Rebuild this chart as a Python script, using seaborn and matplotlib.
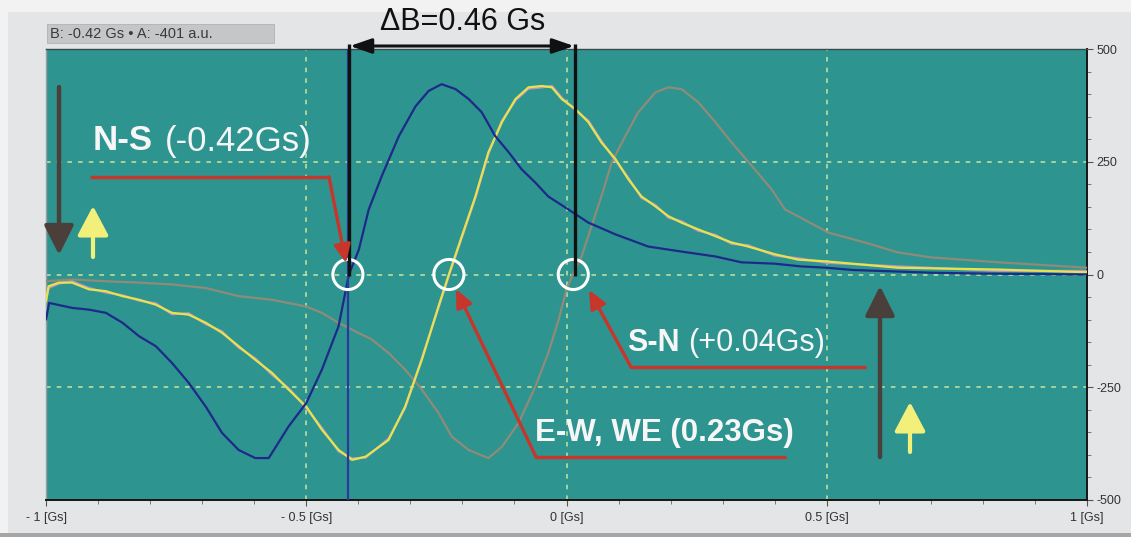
import matplotlib
matplotlib.use("Agg")
import matplotlib.pyplot as plt
import seaborn as sns
import numpy as np
import pandas as pd
from matplotlib.patches import Rectangle, FancyArrowPatch
from matplotlib.lines import Line2D
from matplotlib.ticker import MultipleLocator, FixedLocator, FixedFormatter

# ---------------- data ----------------
blue_B = [-1.0, -0.994, -0.95, -0.917, -0.885, -0.853, -0.821, -0.789, -0.758, -0.726, -0.693,
          -0.662, -0.63, -0.598, -0.572, -0.534, -0.5, -0.47, -0.438, -0.418, -0.399, -0.38,
          -0.355, -0.322, -0.29, -0.265, -0.24, -0.213, -0.188, -0.163, -0.137, -0.111,
          -0.086, -0.06, -0.035, 0.004, 0.042, 0.094, 0.157, 0.22, 0.286, 0.336, 0.4, 0.45,
          0.5, 0.55, 0.6, 0.7, 0.8, 0.9, 1.0]
blue_A = [-100, -63, -74, -78, -85, -107, -137, -159, -196, -240, -293,
          -351, -389, -407, -407, -337, -285, -211, -115, 0, 55, 144,
          218, 307, 373, 407, 422, 411, 389, 360, 307, 271,
          233, 204, 173, 144, 115, 89, 62, 51, 40, 27, 24, 18,
          15, 10, 8, 4, 2, 1, 0]

yel_B = [-1.0, -0.995, -0.975, -0.95, -0.917, -0.885, -0.853, -0.821, -0.789, -0.758, -0.726,
         -0.693, -0.662, -0.63, -0.598, -0.566, -0.534, -0.5, -0.47, -0.438, -0.412, -0.386,
         -0.342, -0.31, -0.278, -0.246, -0.226, -0.201, -0.175, -0.15, -0.124, -0.098, -0.073,
         -0.047, -0.028, -0.009, 0.017, 0.042, 0.067, 0.094, 0.119, 0.144, 0.171, 0.196,
         0.221, 0.253, 0.286, 0.317, 0.349, 0.4, 0.445, 0.5, 0.637, 0.83, 1.0]
yel_A = [-60, -26, -18, -18, -33, -37, -48, -56, -67, -85, -89,
         -107, -129, -159, -189, -218, -255, -293, -344, -389, -411, -404,
         -367, -293, -189, -71, 0, 85, 173, 271, 338, 389, 415,
         418, 415, 389, 367, 338, 293, 256, 211, 173, 151, 129,
         115, 100, 85, 71, 62, 45, 33, 29, 15, 11, 5]

lav_B = yel_B
lav_A = [-56, -30, -20, -15, -30, -40, -46, -58, -64, -88, -86,
         -110, -126, -162, -186, -222, -252, -296, -340, -392, -408, -406,
         -364, -296, -186, -74, -3, 82, 170, 268, 341, 386, 412,
         415, 418, 392, 364, 341, 296, 253, 214, 170, 154, 126,
         118, 97, 88, 68, 65, 42, 36, 26, 18, 8, 8]

gray_B = [-1.0, -0.95, -0.885, -0.821, -0.758, -0.693, -0.63, -0.566, -0.5, -0.47, -0.438,
          -0.406, -0.374, -0.342, -0.31, -0.278, -0.246, -0.22, -0.188, -0.15, -0.124,
          -0.092, -0.06, -0.035, -0.015, 0.0, 0.012, 0.029, 0.067, 0.087, 0.113, 0.138,
          0.171, 0.196, 0.221, 0.253, 0.286, 0.317, 0.35, 0.394, 0.42, 0.445, 0.503,
          0.573, 0.637, 0.70, 0.83, 1.0]
gray_A = [-15, -11, -15, -18, -22, -30, -48, -56, -71, -85, -107,
          -126, -144, -174, -211, -255, -307, -360, -389, -407, -382,
          -329, -249, -174, -100, -33, 0, 40, 173, 249, 307, 360,
          404, 415, 411, 382, 338, 293, 249, 189, 144, 129, 93,
          71, 49, 38, 27, 15]

circle_B = [-0.42, -0.226, 0.013]
circle_A = [0, 0, 0]

x_ticks = [-1, -0.5, 0, 0.5, 1]
x_tick_labels = ["- 1 [Gs]", "- 0.5 [Gs]", "0 [Gs]", "0.5 [Gs]", "1 [Gs]"]
y_ticks = [-500, -250, 0, 250, 500]
y_tick_labels = ["-500", "-250", "0", "250", "500"]

readout = "B: -0.42 Gs \u2022 A: -401 a.u."
delta_label = "\u0394B=0.46 Gs"

# ---------------- styling ----------------
W, H = 1131, 537
sns.set_style("white")
plt.rcParams["font.family"] = ["Liberation Sans", "DejaVu Sans"]

fig = plt.figure(figsize=(W / 100, H / 100), dpi=100, facecolor="#f2f2f2")

def F(x, y):
    return (x / W, 1 - y / H)

# panel background
fig.patches.append(Rectangle(F(8, 533), (W - 8) / W, (533 - 12) / H, transform=fig.transFigure,
                             facecolor="#e3e5e7", edgecolor="none", zorder=-10))
fig.patches.append(Rectangle(F(0, 537), 1, 4 / H, transform=fig.transFigure,
                             facecolor="#a4a6a8", edgecolor="none", zorder=-9))

L, R, T, Bt = 46, 1087, 49, 500
ax = fig.add_axes([L / W, 1 - Bt / H, (R - L) / W, (Bt - T) / H])
ax.set_facecolor("#2e9490")

# grid
for gx in [-0.5, 0, 0.5]:
    ax.axvline(gx, color="#c9e6a2", lw=1.1, ls=(0, (3, 4)), zorder=1)
for gy in [-250, 0, 250]:
    ax.axhline(gy, color="#c9e6a2", lw=1.1, ls=(0, (3, 4)), zorder=1)

series = [
    (gray_B, gray_A, "#8e8b78"),
    (lav_B, lav_A, "#b494c8"),
    (yel_B, yel_A, "#e8e24e"),
    (blue_B, blue_A, "#1d2a88"),
]
for bx, ay, c in series:
    sns.lineplot(x=bx, y=ay, color=c, lw=1.6, ax=ax, sort=False, estimator=None, zorder=3)

ax.set_xlim(-1, 1)
ax.set_ylim(-500, 500)

# cursor line (navy)
ax.axvline(-0.42, color="#2a3a9c", lw=1.6, zorder=4)

# circles
ax.scatter(circle_B, circle_A, s=470, facecolors="none", edgecolors="white", linewidths=2.2, zorder=6)

# ticks
ax.yaxis.tick_right()
ax.yaxis.set_major_locator(FixedLocator(y_ticks))
ax.yaxis.set_major_formatter(FixedFormatter(y_tick_labels))
ax.yaxis.set_minor_locator(MultipleLocator(50))
ax.xaxis.set_major_locator(FixedLocator(x_ticks))
ax.xaxis.set_major_formatter(FixedFormatter(x_tick_labels))
ax.xaxis.set_minor_locator(MultipleLocator(0.1))
ax.tick_params(axis="both", which="major", direction="out", length=4, width=0.8,
               colors="#555555", labelcolor="#333333", labelsize=9, pad=3)
ax.tick_params(axis="both", which="minor", direction="out", length=3, width=0.7, colors="#777777")
ax.tick_params(axis="y", which="both", left=False, right=True)
ax.tick_params(axis="x", which="both", bottom=True, top=False, pad=5)

for s in ["right", "bottom"]:
    ax.spines[s].set_color("#151515")
    ax.spines[s].set_linewidth(1.4)
ax.spines["top"].set_color("#3a4a4a")
ax.spines["top"].set_linewidth(1.0)
ax.spines["left"].set_color("#9aa0a0")
ax.spines["left"].set_linewidth(1.0)

# ---------------- annotations (figure pixel coordinates) ----------------
def fline(pts, color, lw):
    xs = [p[0] / W for p in pts]
    ys = [1 - p[1] / H for p in pts]
    fig.add_artist(Line2D(xs, ys, transform=fig.transFigure, color=color, lw=lw,
                          solid_capstyle="butt", zorder=20))

def farrow(p0, p1, color, lw, hl, hw, ms=10):
    fig.add_artist(FancyArrowPatch(
        F(*p0), F(*p1), transform=fig.transFigure,
        arrowstyle=f"-|>,head_length={hl},head_width={hw}", mutation_scale=ms,
        color=color, lw=lw, shrinkA=0, shrinkB=0, zorder=21))

red = "#c8352a"
# N-S
fline([(90, 177), (330, 177)], red, 2.4)
farrow((329, 177), (346, 263), red, 2.4, 1.1, 0.5)
# E-W
fline([(535, 457), (786, 457)], red, 2.4)
farrow((536, 457), (456, 289), red, 2.4, 1.1, 0.5)
# S-N
fline([(630, 367), (866, 367)], red, 2.4)
farrow((631, 367), (589, 290), red, 2.4, 1.1, 0.5)

# big arrows
dark = "#4a3f3b"
yel = "#f2f07a"
farrow((59, 87), (59, 255), dark, 3.2, 1.8, 0.9)
farrow((93, 257), (93, 206), yel, 3.0, 1.8, 0.95)
farrow((880, 457), (880, 286), dark, 3.2, 1.8, 0.9)
farrow((910, 452), (910, 402), yel, 3.0, 1.8, 0.95)

# black delta-B construction
fline([(349, 44), (349, 276)], "#111111", 2.4)
fline([(575, 44), (575, 276)], "#111111", 2.4)
fig.add_artist(FancyArrowPatch(
    F(350, 46), F(574, 46), transform=fig.transFigure,
    arrowstyle="<|-|>,head_length=1.3,head_width=0.45", mutation_scale=10,
    color="#111111", lw=2.2, shrinkA=0, shrinkB=0, zorder=21))
fig.text(*F(463, 22), delta_label, ha="center", va="center", fontsize=22, color="#111111", zorder=22)

# labels
white = "#f6f6f6"
fig.text(*F(93, 141), "N-S", ha="left", va="center", fontsize=25, fontweight="bold", color=white, zorder=22)
fig.text(*F(165, 141), "(-0.42Gs)", ha="left", va="center", fontsize=25, color=white, zorder=22)
fig.text(*F(627, 343), "S-N", ha="left", va="center", fontsize=22, fontweight="bold", color=white, zorder=22)
fig.text(*F(688, 343), "(+0.04Gs)", ha="left", va="center", fontsize=22, color=white, zorder=22)
fig.text(*F(535, 433), "E-W, WE (0.23Gs)", ha="left", va="center", fontsize=22.5, fontweight="bold",
         color=white, zorder=22)

# readout box
fig.patches.append(Rectangle(F(47, 43), (274 - 47) / W, 19 / H, transform=fig.transFigure,
                             facecolor="#c4c6c8", edgecolor="#b0b2b4", lw=0.6, zorder=5))
fig.text(*F(50, 34), readout, ha="left", va="center", fontsize=10.5, color="#3a3a3a", zorder=6)

fig.savefig("out.png", dpi=100, facecolor=fig.get_facecolor())
